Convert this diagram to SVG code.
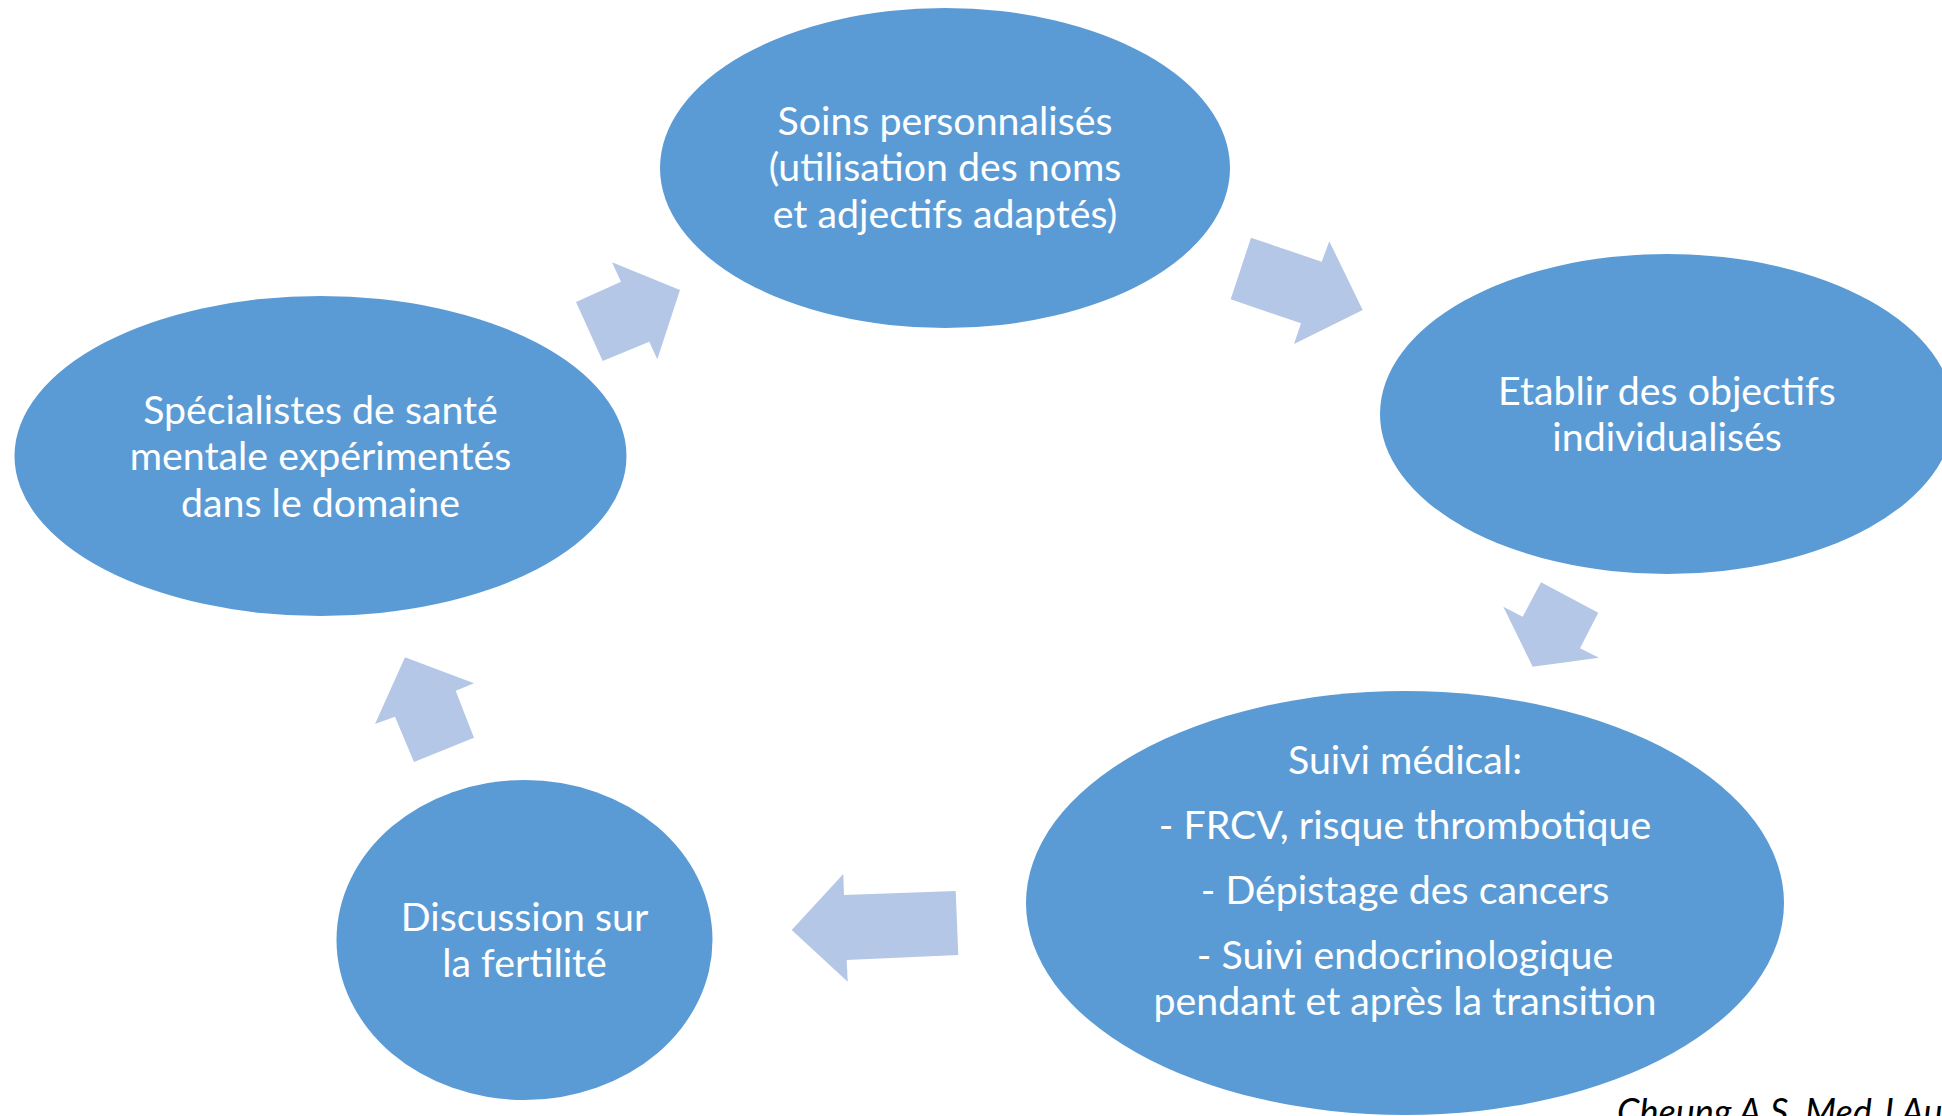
<svg xmlns="http://www.w3.org/2000/svg" width="1942" height="1116" viewBox="0 0 1942 1116">
<style>
.node{fill:#5B9BD5;}
.lbl{fill:#FFFFFF;font-family:Lato,"Liberation Sans",sans-serif;font-size:39.3px;text-anchor:middle;}
.arr{fill:#B4C7E7;}
.cite{fill:#000000;font-family:Lato,"Liberation Sans",sans-serif;font-size:36px;font-style:italic;}
</style>
<rect width="1942" height="1116" fill="#FFFFFF"/>
<g id="connectors">
<polygon class="arr" points="602.7,361 576,302 621,281.7 612,262.3 680,290 657.3,359.3 649.3,341.7"/>
<polygon class="arr" points="1251,237.7 1321.7,261.7 1329.3,241.3 1362.7,310 1294,344 1301,323.3 1230.7,299.3"/>
<polygon class="arr" points="1541,582.3 1598.3,612.7 1580,648.3 1599,657.7 1532.7,666.7 1503.3,606.7 1522.7,616.7"/>
<polygon class="arr" points="955.7,891 844,895 843.3,874 791.7,930 847.7,981.7 846.7,960 958.3,955"/>
<polygon class="arr" points="474,737.7 414,762 395,716.7 375,724 405,657.3 474,683.3 455.7,690.7"/>
</g>
<g id="node-soins">
<ellipse class="node" cx="945" cy="168" rx="285" ry="160"/>
<text class="lbl" x="945" y="134.5">Soins personnalisés</text>
<text class="lbl" x="945" y="181">(utilisation des noms</text>
<text class="lbl" x="945" y="227.5">et adjectifs adaptés)</text>
</g>
<g id="node-objectifs">
<ellipse class="node" cx="1667" cy="414" rx="287" ry="160"/>
<text class="lbl" x="1667" y="404.5">Etablir des objectifs</text>
<text class="lbl" x="1667" y="451">individualisés</text>
</g>
<g id="node-suivi">
<ellipse class="node" cx="1405" cy="903" rx="379" ry="212"/>
<text class="lbl" x="1405" y="773.5">Suivi médical:</text>
<text class="lbl" x="1405" y="838.5">- FRCV, risque thrombotique</text>
<text class="lbl" x="1405" y="903.5">- Dépistage des cancers</text>
<text class="lbl" x="1405" y="968.5">- Suivi endocrinologique</text>
<text class="lbl" x="1405" y="1014.5">pendant et après la transition</text>
</g>
<g id="node-fertilite">
<ellipse class="node" cx="524.5" cy="940" rx="188" ry="160"/>
<text class="lbl" x="524.5" y="930.5">Discussion sur</text>
<text class="lbl" x="524.5" y="977">la fertilité</text>
</g>
<g id="node-specialistes">
<ellipse class="node" cx="320.5" cy="456" rx="306" ry="160"/>
<text class="lbl" x="320.5" y="423.5">Spécialistes de santé</text>
<text class="lbl" x="320.5" y="469.5">mentale expérimentés</text>
<text class="lbl" x="320.5" y="516.5">dans le domaine</text>
</g>
<text class="cite" x="1617" y="1125">Cheung A.S. Med J Au</text>
</svg>
